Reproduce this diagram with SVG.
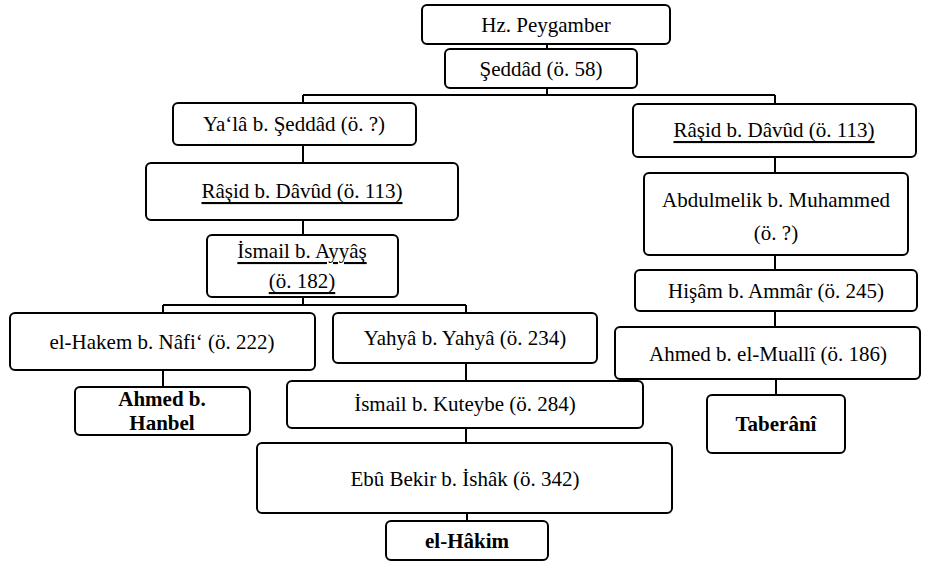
<svg xmlns="http://www.w3.org/2000/svg" width="930" height="562" viewBox="0 0 930 562">
<style>
.n rect{fill:#fff;stroke:#000;stroke-width:2}
.n text{font-family:"Liberation Serif","Times New Roman",serif;font-size:21px;fill:#000;text-anchor:middle;dominant-baseline:central}
.n text.b{font-weight:bold}
.n text.u{text-decoration:underline}
#connectors path{fill:none;stroke:#000;stroke-width:2}
</style>
<rect width="930" height="562" fill="#fff"/>
<g id="connectors">
<path d="M547 44V49"/>
<path d="M547 88V95M303 95H775M303 95V103M775 95V104"/>
<path d="M303 145V163"/>
<path d="M303 220V235"/>
<path d="M303 297V305M163 305H466M163 305V313M466 305V313"/>
<path d="M163 370V387"/>
<path d="M466 363V381"/>
<path d="M466 428V443"/>
<path d="M467 513V521"/>
<path d="M775 157V173"/>
<path d="M775 255V270"/>
<path d="M775 311V327"/>
<path d="M776 379V395"/>
</g>
<g id="hz" class="n"><rect x="422" y="5" width="248" height="39" rx="5"/><text x="546" y="25">Hz. Peygamber</text></g>
<g id="seddad" class="n"><rect x="445" y="49" width="192" height="39" rx="5"/><text x="541" y="69">Şeddâd (ö. 58)</text></g>
<g id="yala" class="n"><rect x="173" y="103" width="243" height="42" rx="5"/><text x="294" y="124">Ya‘lâ b. Şeddâd (ö. ?)</text></g>
<g id="rasid1" class="n"><rect x="146" y="163" width="312" height="57" rx="5"/><text class="u" x="302" y="191">Râşid b. Dâvûd (ö. 113)</text></g>
<g id="ayyas" class="n"><rect x="207" y="235" width="191" height="62" rx="5"/><text class="u" x="302" y="251">İsmail b. Ayyâş</text><text class="u" x="302" y="281">(ö. 182)</text></g>
<g id="hakem" class="n"><rect x="10" y="313" width="305" height="57" rx="5"/><text x="162" y="342">el-Hakem b. Nâfi‘ (ö. 222)</text></g>
<g id="yahya" class="n"><rect x="333" y="313" width="264" height="50" rx="5"/><text x="465" y="338">Yahyâ b. Yahyâ (ö. 234)</text></g>
<g id="hanbel" class="n"><rect x="75" y="387" width="175" height="48" rx="5"/><text class="b" x="162" y="399">Ahmed b.</text><text class="b" x="162" y="423">Hanbel</text></g>
<g id="kuteybe" class="n"><rect x="287" y="381" width="356" height="47" rx="5"/><text x="465" y="404">İsmail b. Kuteybe (ö. 284)</text></g>
<g id="ebubekir" class="n"><rect x="257" y="443" width="415" height="70" rx="5"/><text x="465" y="479">Ebû Bekir b. İshâk (ö. 342)</text></g>
<g id="elhakim" class="n"><rect x="386" y="521" width="162" height="39" rx="5"/><text class="b" x="467" y="541">el-Hâkim</text></g>
<g id="rasid2" class="n"><rect x="633" y="104" width="283" height="53" rx="5"/><text class="u" x="774" y="130">Râşid b. Dâvûd (ö. 113)</text></g>
<g id="abdulmelik" class="n"><rect x="644" y="173" width="264" height="82" rx="5"/><text x="776" y="200">Abdulmelik b. Muhammed</text><text x="776" y="233">(ö. ?)</text></g>
<g id="hisam" class="n"><rect x="635" y="270" width="282" height="41" rx="5"/><text x="776" y="291">Hişâm b. Ammâr (ö. 245)</text></g>
<g id="mualli" class="n"><rect x="615" y="327" width="305" height="52" rx="5"/><text x="768" y="354">Ahmed b. el-Muallî (ö. 186)</text></g>
<g id="taberani" class="n"><rect x="707" y="395" width="138" height="58" rx="5"/><text class="b" x="776" y="424">Taberânî</text></g>
</svg>
